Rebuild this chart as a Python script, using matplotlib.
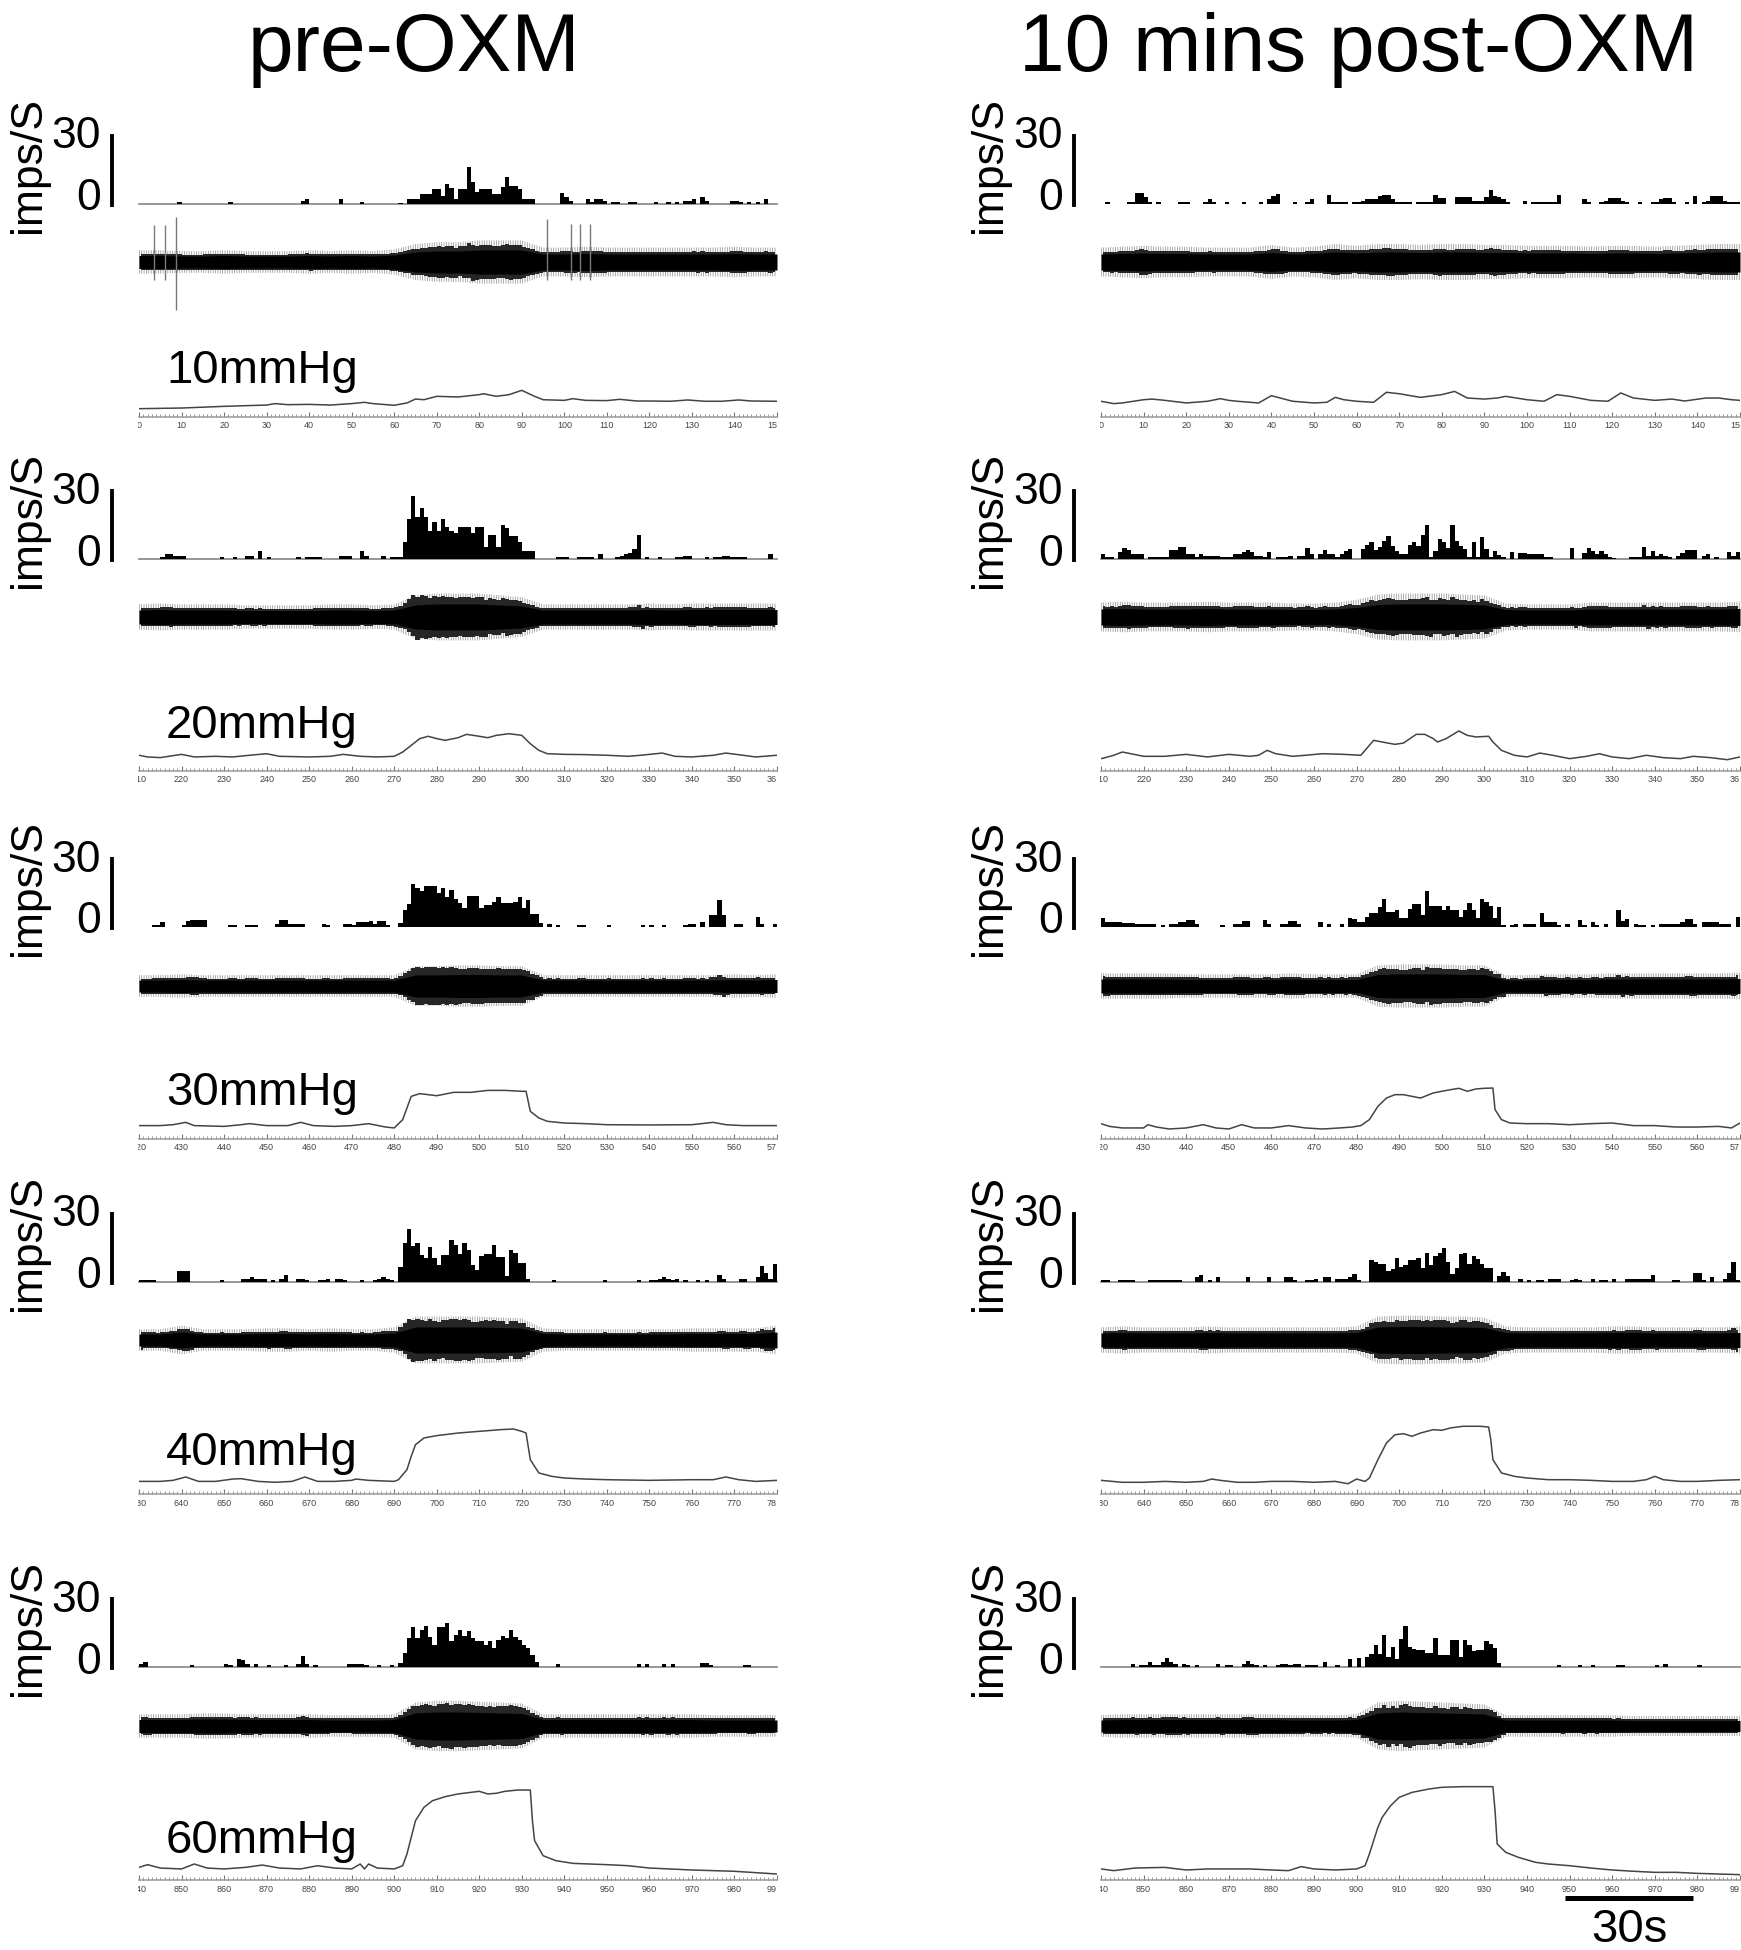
import numpy as np
import matplotlib
matplotlib.use("Agg")
import matplotlib.pyplot as plt
from matplotlib import transforms
from matplotlib.lines import Line2D

plt.rcParams['font.family'] = ['Liberation Sans', 'DejaVu Sans']
plt.rcParams['hatch.linewidth'] = 0.5

W, H = 1741, 1950

# ---- data: start time (s) of each 150 s sweep, and distension pressure
starts = [0, 210, 420, 630, 840]
pressure_labels = ['10mmHg', '20mmHg', '30mmHg', '40mmHg', '60mmHg']

# firing rate histograms, 1 s bins (imps/S), pre-OXM (pre_*) and 10 min post-OXM (post_*)
pre_10 = [0, 0, 0, 0, 0, 0, 0, 0, 0, 1,  0, 0, 0, 0, 0, 0, 0, 0, 0, 0,
          0, 1, 0, 0, 0, 0, 0, 0, 0, 0,  0, 0, 0, 0, 0, 0, 0, 0, 1.5, 2,
          0, 0, 0, 0, 0, 0, 0, 2, 0, 0,  0, 0, 1, 0, 0, 0, 0, 0, 0, 0,
          0, 0.5, 0, 2, 2, 2, 4.5, 4.5, 4.5, 6.5,  6.5, 3.5, 9, 7, 2, 6.5, 6.5, 16.5, 9.5, 5.5,
          6.5, 6.5, 6.5, 4.5, 4.5, 7.5, 12, 8, 8, 6.5,  2, 2, 2, 0, 0, 0, 0, 0, 0, 4.7,
          3.2, 1.3, 0, 0, 0, 2, 1, 2, 2, 1.5,  0, 1, 1, 0, 0, 1, 1, 0, 0, 0,
          0, 1, 0, 0, 1, 0, 1, 0, 1.5, 1.5,  2, 0, 3, 1.5, 0, 0, 0, 0, 0, 1.5,
          1.5, 1, 0, 1, 0, 1, 0, 2, 0, 0]
post_10 = [0, 1, 0, 0, 0, 0, 1, 1, 5, 5,  3, 1, 0, 1, 0, 0, 0, 0, 1, 1,
           1, 0, 0, 0, 1, 2, 1, 0, 0, 1,  0, 0, 0, 1, 0, 0, 0, 1, 0, 2,
           3.5, 4.5, 0, 0, 0, 1, 0, 0, 1, 2,  0, 0, 0, 4, 1, 1, 1, 1, 0, 1,
           1, 1.5, 2, 2, 2, 3.5, 4, 4, 2, 1,  1, 1, 1, 0, 1, 1, 1, 1, 4, 2.5,
           2.5, 0, 0, 3, 3, 3, 3, 1.5, 1.5, 1.5,  3, 6, 3.5, 3, 2, 1, 0, 0, 0, 1.5,
           0, 1, 1, 1, 1, 1, 1, 4, 0, 0,  0, 0, 0, 2, 1, 0, 0, 1, 1.5, 2.5,
           2.5, 2.5, 1.5, 1, 0, 0, 1, 0, 0, 1,  1, 2, 2.5, 2.5, 1, 0, 0, 1, 0, 3.5,
           0, 1, 1.5, 3.5, 3.5, 3.5, 1.5, 1, 1, 1]
pre_20 = [0, 0, 0, 0, 0, 1, 2, 2, 1.5, 1.5,  1.5, 0, 0, 0, 0, 0, 0, 0, 0, 1,
          0, 0, 1, 0, 0, 1.5, 1.5, 0, 3.5, 0,  1, 0, 0, 0, 0, 0, 0, 1, 0, 1,
          1, 1, 1, 0, 0, 0, 0, 1.5, 1.5, 1.5,  0, 0, 3.5, 1.5, 0, 0, 0, 1.5, 0, 1,
          1, 1, 7.6, 17.5, 28, 18.4, 22.6, 18.4, 12.5, 16.5,
          12.5, 17.5, 14, 12.5, 11.6, 14, 14.3, 14.3, 11.6, 14.3,
          14.3, 5.4, 10.6, 10.6, 5.4, 15, 13.5, 10, 10, 7.6,
          3.7, 3.7, 3.7, 0, 0, 0, 0, 0, 1, 1,  1, 0, 0, 1, 1, 1, 1, 0, 2, 0,
          0, 0, 1, 1.5, 2, 2.5, 4.5, 10.5, 0, 1,  0, 0, 1, 0, 0, 0, 1, 1, 1.5, 1.5,
          0, 0, 0, 1, 0, 1, 1, 1.5, 1.5, 1,  1, 1, 1, 0, 0, 0, 0, 0, 2, 0]
post_20 = [2, 1, 1, 0, 3, 5, 4, 2, 2, 2,  0, 1, 1, 1, 1, 1, 4, 4, 5.3, 5.3,
           2.2, 2.2, 1, 2, 1.5, 1.5, 1.5, 1.5, 1, 1,  1, 2, 2, 3, 4, 3, 1.5, 1.5, 1, 3,
           0, 1, 1, 1, 1.5, 0, 1.5, 1.5, 5, 2,  0, 2, 4, 2, 2, 1, 2, 3.5, 4.5, 0,
           0, 4.4, 6.2, 7.4, 4, 5.4, 8, 10.3, 5.9, 3.7,
           2.2, 2.2, 6.3, 7.6, 5.9, 10.7, 15, 1, 3.4, 8.8,
           7.4, 4.9, 15, 7.8, 5.9, 4.4, 1, 7.4, 1, 9.6,
           4.4, 1, 3.4, 1.9, 1, 0, 3, 0, 2.5, 2.5,  2, 2, 2, 2, 1, 1, 0, 0, 0, 0,
           5, 0, 0, 2.5, 5, 3.5, 2, 3.5, 2, 1,  0.5, 0, 0, 0, 1, 1, 1, 5.5, 1.5, 3.5,
           1.5, 2, 1.5, 1, 0, 1.5, 2.5, 4, 4, 4,  0, 1.5, 2, 0, 1, 0, 0, 3, 1.5, 3]
pre_30 = [0, 0, 0, 1, 1, 2, 0, 0, 0, 0,  1, 2.6, 3, 3, 3, 3, 0, 0, 0, 0,
          0, 1, 1, 0, 0, 1, 1, 1, 0, 0,  0, 0, 1.5, 3, 3, 1.5, 1.5, 1.5, 1.5, 0,
          0, 0, 0, 1.5, 1, 0, 0, 0, 1.5, 1.5,  1, 2, 2, 2, 2.5, 1.5, 2.5, 2.5, 1, 0,
          0, 1.8, 7.4, 10.3, 19, 17.4, 16, 18, 18, 18,
          15, 17, 13.2, 16.5, 12.5, 10.6, 8.5, 13.7, 13.7, 13.7,
          8.5, 9.5, 9.5, 11, 13.2, 10.6, 10.6, 10.6, 11, 13.2,
          8.5, 12, 5.9, 5.9, 1.8, 0, 1.5, 0, 1, 0,  0, 0, 0, 1, 1, 0, 0, 0, 0, 0,
          1, 0, 0, 0, 0, 0, 0, 0, 1, 0,  1, 0, 0, 1, 0, 0, 0, 0, 1, 1.5,
          1.5, 0, 2.2, 0, 5.1, 5.1, 11.8, 5.1, 0, 0,  1.5, 1.5, 0, 0, 0, 4.5, 1.5, 0, 0, 1.5]
post_30 = [4, 2.2, 2.2, 2.2, 2.2, 1.8, 1.8, 1.8, 1.2, 1.2,  1.2, 1.2, 1.2, 0, 0.7, 0, 1.2, 1.2, 2.2, 2.2,
           3, 3, 1.5, 0, 0, 0, 0, 0, 1, 0,  0, 1.5, 1.5, 2.5, 2.5, 0, 0, 0, 3, 1.5,
           0, 0, 1.5, 1.5, 2.5, 2.5, 1.5, 0, 0, 0,  0, 2, 0, 1.5, 0, 0, 1.5, 0, 4, 3.5,
           2, 2, 4.4, 6.2, 6.2, 8.8, 12.5, 6.6, 6.6, 7.4,
           4.1, 4.1, 8, 10.3, 10.3, 5.1, 15.9, 9.1, 9.1, 9.1,
           7.4, 9.1, 7.4, 7.4, 4.4, 7.4, 10.6, 7.6, 4.1, 12.5,
           11, 9.1, 4.1, 8.8, 0.7, 0, 1, 1.5, 0, 1.5,  1.5, 1.5, 0, 6, 2, 2, 2, 1, 0, 1.5,
           0, 0, 3, 1, 0, 2, 1, 0, 1.5, 0,  0, 7.4, 2.5, 3.5, 0, 1.5, 1, 1, 0, 1,
           0, 1.5, 1.5, 1.5, 1.5, 1.5, 2, 3.7, 3.7, 1.5,  0, 2, 2, 2, 2, 1.5, 1.5, 1.5, 0, 4.5]
pre_40 = [1, 1, 1, 1, 0, 0, 0, 0, 0, 5,  5, 5, 0, 0, 0, 0, 0, 0, 0, 1,
          0, 0, 0, 0, 1.5, 1.5, 2, 1.5, 1.5, 1.5,  0, 1, 0, 1.5, 3, 0, 0, 1.5, 1.5, 1,
          0, 0, 1, 1, 1.5, 0, 1.5, 1.5, 1, 0,  0, 0, 1, 0, 0, 1, 1.5, 2, 1.5, 1,
          0, 6.6, 17, 23.5, 15.8, 17.2, 11.8, 10.7, 15.3, 10.7,
          7.4, 11.8, 11.8, 18.4, 16.2, 12.5, 17.2, 14, 7.4, 5.1,
          11.3, 12.5, 12.5, 16.2, 11, 11, 2.5, 14, 12.8, 8.4,
          8.4, 1.5, 0, 0, 0, 0, 0, 1, 0, 0,  0, 0, 0, 0, 0, 0, 0, 0, 0, 1,
          0, 0, 0, 0, 0, 0, 0, 1, 0, 0,  1, 1, 1.5, 2, 1.5, 1, 1.5, 0, 1, 0,
          0, 1, 0, 1, 0, 0, 3, 1.5, 0, 0,  0, 1.5, 1.5, 0, 0, 2, 7, 4, 1.5, 8]
post_40 = [1, 1, 0, 0, 1, 1, 1, 1, 0, 0,  0, 1, 1, 1, 1, 1, 1, 1, 1, 0,
           0, 0, 2.2, 3, 0, 1, 0, 2, 0, 0,  0, 0, 0, 0, 2, 0, 0, 0, 0, 2,
           0, 0, 0, 2, 2, 1, 0, 0, 1, 1,  1.5, 0, 2, 2, 0, 1.5, 1.5, 1.5, 2, 3.4,
           1, 0, 0, 9.7, 9, 7.8, 7.8, 4.9, 5.6, 10.4,
           6.6, 7.5, 9.6, 9.6, 10.7, 6.3, 12.9, 7.5, 11.5, 12.9,
           14.9, 9, 3.4, 6, 12.2, 12.9, 7.8, 11.5, 10, 8.1,
           6, 6, 0, 2.5, 4.5, 2.5, 0, 0, 1.5, 0,  1, 0, 1, 1, 0, 1.5, 1.5, 1.5, 0, 0,
           1, 1.5, 1, 0, 0, 1.5, 0, 1, 1, 0,  1.5, 0, 0, 1.5, 1.5, 1.5, 1.5, 1.5, 1.5, 3,
           0, 0, 0, 0, 1, 1, 0, 0, 0, 4,  4, 1, 0, 2, 0, 0, 1.5, 4, 9, 1]
pre_60 = [1.5, 2, 0, 0, 0, 0, 0, 0, 0, 0,  0, 0, 1, 0, 0, 0, 0, 0, 0, 0,
          1.5, 1, 0, 3.5, 3, 1.5, 0, 1.5, 0, 0,  1, 0, 0, 0, 1, 0, 0, 1.5, 5, 1.5,
          0, 1, 0, 0, 0, 0, 0, 0, 0, 1.5,  1.5, 1.5, 1.5, 1, 0, 0, 1, 0, 0, 1,
          0, 1.8, 6.2, 12.8, 17.6, 12.8, 16.5, 18.2, 13.2, 9.8,
          17.6, 17.6, 19.4, 11.3, 14.3, 16.5, 13.5, 15.7, 12.8, 11.3,
          11.3, 9.8, 11.3, 8.4, 12, 13.5, 12.8, 16.5, 13.2, 11.8,
          9.8, 8.4, 5.4, 2, 0, 0, 0, 0, 1.5, 0,  0, 0, 0, 0, 0, 0, 0, 0, 0, 0,
          0, 0, 0, 0, 0, 0, 0, 1.5, 0, 1.5,  0, 0, 0, 1.5, 0, 1.5, 0, 0, 0, 0,
          0, 0, 1.8, 1.8, 1, 0, 0, 0, 0, 0,  0, 0, 1, 1, 0, 0, 0, 0, 0, 0]
post_60 = [0, 0, 0, 0, 0, 0, 0, 1.5, 0, 1,  1, 2, 1, 1, 2, 4, 2, 1.5, 0, 1.5,
           1, 0, 1, 0, 0, 0, 0, 1.5, 0, 1,  1, 0, 0, 1.5, 2.5, 1.5, 1, 0, 1, 0,
           0, 1, 1.5, 1.5, 1, 1.5, 1.5, 0, 1, 1,  1, 0, 2, 0, 0, 1, 0, 0, 3.5, 0,
           4, 0, 4.4, 5.9, 9.6, 5.9, 14, 4.4, 8.8, 3.7,
           12.5, 17.9, 8.8, 8.1, 7.4, 7.4, 6.2, 6.2, 12.9, 5.1,
           5.1, 5.1, 11.8, 11.8, 4.4, 11.8, 9.6, 7, 7.4, 7.4,
           11.5, 10, 8.5, 1.8, 0, 0, 0, 0, 0, 0,  0, 0, 0, 0, 0, 0, 0, 1, 0, 0,
           0, 0, 1, 0, 0, 1, 0, 0, 0, 0,  0, 1, 1, 0, 0, 0, 0, 0, 0, 0,
           1, 0, 1.5, 0, 0, 0, 0, 0, 0, 0,  1, 0, 0, 0, 0, 0, 0, 0, 0, 0]

# raw nerve recording: band half-amplitude (px) every 5 s
raw_pre = [
    [6.5, 6.5, 6, 6, 6.5, 6, 6, 6, 6.5, 6, 6.5, 6, 7, 10, 11, 11, 12, 12, 12, 8, 8, 8.5, 8, 8, 8, 8, 8, 8, 8.5, 8, 8],
    [7, 7.5, 7, 7, 7, 6.5, 6.5, 6.5, 6.5, 7, 7, 6.5, 7, 12, 13, 13, 13, 12, 11, 7, 7, 7, 7, 7, 7.5, 7, 7.5, 7.5, 7.5, 7.5, 7.5],
    [6, 6, 6.5, 6, 6, 6, 6, 6, 6, 6, 6, 6, 6, 11, 11, 11.5, 11.5, 11, 11, 6, 6, 6, 6, 6, 6, 6, 6, 6, 6.5, 6, 6.5],
    [6, 6, 8, 6, 6, 6, 6.5, 6.5, 6, 6.5, 6, 6, 7, 13, 13, 13, 13, 12.5, 12, 6.5, 6, 6, 6, 6, 6, 6, 6.5, 6.5, 6.5, 6.5, 8],
    [6.5, 6.5, 6.5, 7, 7, 6.5, 6.5, 6.5, 6.5, 6, 6, 6, 6.5, 13, 14, 14, 13.5, 13, 12.5, 6.5, 6.5, 6.5, 6.5, 6.5, 6.5, 6.5, 6.5, 6, 6, 6, 6],
]
raw_post = [
    [8, 8.5, 9, 8.5, 8.5, 8, 8, 8, 9.5, 8, 8.5, 10, 9, 10, 10, 9.5, 10, 10, 9.5, 9.5, 9, 9, 9, 8.5, 9, 9, 8.5, 9, 9.5, 10, 10],
    [8, 8.5, 8, 8, 8, 8.5, 8, 8, 8, 7.5, 7.5, 8, 9.5, 12.5, 13, 13, 13, 12.5, 12, 7.5, 7, 7, 7, 8, 8, 8, 8, 8, 8, 8, 8.5],
    [7, 7, 7, 7, 6.5, 6.5, 6.5, 6.5, 6.5, 7, 6.5, 6.5, 6.5, 11.5, 12, 12, 12, 11.5, 11.5, 6, 6, 6.5, 6.5, 6.5, 7, 7, 7, 7, 7, 7, 7.5],
    [7, 7.5, 7, 7, 7, 7.5, 7, 7, 7, 7, 7, 7, 7.5, 13, 13.5, 13.5, 13, 13, 12.5, 7.5, 7, 7, 7, 7, 7.5, 7.5, 7, 7, 7, 7, 7.5],
    [6, 6.5, 6.5, 6.5, 6.5, 6.5, 6.5, 6.5, 6.5, 6, 6, 6, 6.5, 13, 14, 13.5, 13, 12.5, 12, 6, 6, 6, 6, 6, 6, 5.5, 5.5, 5.5, 5.5, 5.5, 5.5],
]
# large single units in the first pre-OXM sweep: time (s), up and down extent (px)
spike_t = [3.6, 6.0, 8.8, 95.9, 101.6, 103.7, 106.0]
spike_up = [37, 37, 45, 43, 38, 38, 38]
spike_dn = [18, 18, 48, 18, 18, 18, 18]

# balloon pressure traces (time s, mmHg)
pre_p_t = [
    [0, 10, 20, 30, 32, 35, 40, 45, 50, 53, 55, 60, 63, 65, 67, 70, 75, 80, 81, 84, 87, 90, 93, 95, 100, 102, 105, 110, 113, 117, 120, 125, 129, 133, 137, 141, 144, 150],
    [210, 212, 215, 220, 223, 228, 232, 236, 240, 243, 250, 255, 258, 262, 266, 270, 272, 274, 276, 278, 280, 282, 285, 287, 290, 292, 294, 297, 300, 302, 304, 306, 310, 315, 320, 325, 328, 333, 336, 340, 345, 348, 352, 355, 360],
    [420, 425, 428, 431, 433, 440, 444, 446, 450, 455, 458, 461, 466, 470, 474, 478, 480, 482, 484, 486, 490, 494, 498, 502, 506, 510, 511, 512, 514, 516, 520, 525, 530, 540, 550, 555, 558, 562, 570],
    [630, 635, 638, 641, 644, 648, 652, 654, 658, 662, 666, 669, 672, 676, 680, 681, 684, 690, 691, 693, 694, 695, 697, 700, 705, 710, 715, 718, 720, 721, 722, 724, 727, 730, 735, 740, 750, 760, 765, 768, 771, 775, 780],
    [840, 842, 845, 850, 853, 856, 860, 865, 869, 873, 878, 882, 886, 890, 892, 893, 894, 896, 900, 902, 903, 904, 905, 907, 909, 912, 915, 918, 920, 922, 924, 926, 929, 932, 932.5, 933, 935, 938, 942, 950, 955, 960, 970, 980, 990],
]
pre_p = [
    [6.4, 6.9, 8.2, 9.2, 10.3, 9.5, 9.7, 9.2, 10.3, 11.3, 10.3, 9.0, 10.8, 13.8, 13.3, 15.9, 15.4, 17.2, 17.9, 15.9, 17.2, 20.5, 15.9, 13.3, 12.8, 14.1, 12.8, 12.6, 13.6, 12.3, 12.3, 12.1, 13.1, 12.1, 12.1, 13.1, 12.3, 12.1],
    [12.1, 10.8, 10.3, 12.8, 10.8, 11.3, 10.8, 12.1, 13.3, 11.3, 10.8, 11.3, 12.8, 11.3, 10.8, 11.3, 14.6, 19.7, 24.9, 26.7, 24.9, 23.6, 25.6, 28.2, 26.7, 25.6, 27.4, 28.7, 27.4, 21.0, 15.9, 13.3, 12.8, 12.6, 12.1, 11.3, 12.1, 13.8, 11.3, 10.8, 12.1, 13.8, 12.1, 10.8, 12.1],
    [10.3, 10.3, 11.0, 12.8, 10.3, 9.7, 11.0, 11.8, 10.3, 10.3, 12.8, 10.3, 9.7, 10.3, 11.8, 9.2, 8.5, 14.9, 32.8, 34.9, 33.3, 35.9, 35.9, 37.4, 37.4, 36.7, 36.7, 21.3, 16.2, 13.6, 12.3, 11.8, 11.0, 10.8, 11.0, 12.8, 11.0, 10.3, 10.3],
    [9.7, 9.7, 10.5, 13.1, 9.7, 9.7, 11.5, 11.8, 9.7, 9.0, 9.7, 13.1, 9.7, 9.7, 10.5, 11.5, 10.5, 9.7, 11.0, 18.7, 29.0, 37.9, 43.1, 44.9, 46.9, 48.2, 49.5, 50.0, 48.2, 46.9, 26.4, 16.2, 13.6, 12.3, 11.5, 11.0, 10.5, 11.0, 11.0, 13.1, 11.0, 9.7, 10.5],
    [9.7, 11.8, 9.2, 8.5, 12.3, 9.2, 8.5, 9.7, 11.5, 9.2, 8.5, 11.0, 9.2, 8.5, 12.3, 8.5, 12.3, 9.2, 8.5, 11.0, 20.0, 32.8, 45.6, 55.9, 61.0, 64.1, 66.2, 67.4, 68.2, 66.2, 66.7, 68.2, 69.2, 69.2, 45.6, 30.3, 18.7, 14.9, 12.8, 11.8, 11.0, 9.2, 7.7, 6.7, 4.6],
]
post_p_t = [
    [0, 3, 5, 10, 12, 15, 20, 25, 28, 30, 32, 37, 40, 43, 45, 50, 53, 55, 57, 60, 64, 67, 70, 75, 80, 83, 86, 90, 93, 95, 100, 104, 107, 110, 115, 119, 122, 125, 130, 134, 137, 142, 145, 148, 150],
    [210, 211, 213, 215, 217, 220, 225, 230, 235, 240, 245, 247, 249, 251, 255, 258, 262, 267, 271, 274, 276, 279, 281, 284, 286, 288, 289, 291, 294, 296, 298, 301, 302, 304, 307, 310, 313, 316, 320, 324, 327, 330, 334, 338, 342, 346, 349, 353, 357, 360],
    [420, 422, 425, 430, 431, 433, 436, 440, 444, 447, 450, 453, 456, 460, 464, 468, 472, 476, 479, 481, 483, 485, 487, 489, 491, 493, 495, 498, 500, 502, 504, 506, 508, 510, 512, 512.5, 514, 516, 520, 525, 530, 535, 540, 545, 550, 555, 560, 565, 568, 570],
    [630, 635, 640, 645, 650, 654, 656, 658, 662, 666, 670, 675, 680, 685, 688, 690, 692, 693, 695, 697, 699, 701, 703, 705, 708, 710, 712, 715, 719, 721, 721.5, 722, 724, 727, 730, 735, 740, 745, 750, 755, 758, 760, 762, 766, 770, 775, 780],
    [840, 843, 848, 855, 860, 865, 870, 875, 880, 884, 887, 890, 895, 900, 902, 903, 904, 905, 906, 908, 910, 913, 917, 920, 925, 930, 932, 932.5, 933, 935, 938, 942, 945, 950, 955, 960, 965, 970, 975, 980, 990],
]
post_p = [
    [12.1, 10.3, 10.8, 13.3, 13.8, 12.8, 10.8, 12.1, 14.1, 12.8, 12.1, 10.8, 16.4, 13.8, 12.1, 10.8, 11.3, 15.1, 13.3, 12.1, 11.3, 19.0, 17.9, 15.1, 17.2, 19.7, 14.6, 13.8, 14.6, 15.9, 13.3, 12.1, 17.2, 15.9, 12.8, 12.1, 18.5, 14.6, 12.8, 13.8, 12.3, 14.6, 14.6, 13.3, 12.8],
    [9.5, 10.3, 12.1, 14.6, 13.3, 11.3, 11.3, 12.8, 10.8, 12.8, 11.3, 12.1, 15.9, 13.3, 11.3, 12.1, 13.3, 12.8, 12.1, 23.6, 22.3, 20.5, 21.5, 28.2, 28.2, 24.9, 22.3, 24.9, 30.8, 27.4, 26.2, 26.7, 22.3, 15.9, 12.1, 10.8, 13.8, 12.1, 9.5, 11.3, 13.3, 10.8, 9.5, 12.1, 10.3, 9.5, 11.3, 10.3, 8.7, 10.8],
    [11.8, 9.7, 8.5, 8.5, 11.0, 9.2, 7.7, 8.5, 11.0, 8.5, 7.7, 11.0, 8.5, 8.5, 10.3, 8.5, 7.7, 8.5, 9.2, 10.3, 14.9, 25.1, 31.5, 34.1, 34.1, 32.8, 31.5, 35.4, 36.7, 37.9, 39.0, 36.7, 38.5, 39.0, 39.2, 22.6, 14.9, 12.3, 11.8, 11.8, 11.0, 11.8, 12.3, 10.3, 10.3, 9.2, 9.2, 9.7, 8.5, 12.3],
    [10.5, 9.0, 9.0, 9.7, 9.0, 9.7, 11.5, 10.5, 9.0, 9.0, 9.7, 9.7, 9.0, 9.7, 7.9, 11.5, 9.7, 12.3, 26.4, 39.2, 45.6, 46.4, 44.4, 46.9, 49.5, 49.0, 50.8, 52.1, 52.1, 51.5, 41.8, 26.4, 16.2, 13.6, 12.3, 11.0, 11.0, 10.5, 9.7, 9.7, 11.0, 13.6, 11.0, 9.7, 9.7, 10.5, 11.0],
    [8.5, 7.2, 9.2, 9.7, 7.7, 8.5, 8.5, 8.5, 7.7, 7.2, 10.3, 8.5, 7.7, 8.5, 11.0, 20.0, 30.3, 40.5, 48.2, 57.2, 63.6, 67.4, 70.0, 71.3, 71.8, 71.8, 71.8, 53.3, 27.7, 21.3, 17.4, 13.6, 12.3, 11.0, 9.2, 7.7, 6.7, 5.9, 5.9, 5.1, 4.1],
]

hist = [[pre_10, pre_20, pre_30, pre_40, pre_60],
        [post_10, post_20, post_30, post_40, post_60]]
raw = [raw_pre, raw_post]
p_t = [pre_p_t, post_p_t]
p_v = [pre_p, post_p]
show_base = [[True, True, False, True, True], [False, True, False, True, True]]

# ---- layout (pixels from top-left)
col_x = [(139, 777), (1101, 1740)]
hist_base = [204, 559, 927, 1282, 1667]
raw_mid = [262, 617, 986, 1340, 1726]
axis_y = [417, 771, 1139, 1494, 1880]
mmhg_base = [383, 738, 1105, 1465, 1853]
HIST_H = 68
PX_PER_MMHG = 1.3

fig = plt.figure(figsize=(W / 100, H / 100), dpi=100)


def add_ax(x0, x1, ytop, ybot):
    return fig.add_axes([x0 / W, 1 - ybot / H, (x1 - x0) / W, (ybot - ytop) / H])


def fx(x):
    return x / W


def fy(y):
    return 1 - y / H


fig.text(fx(414), fy(71), 'pre-OXM', fontsize=59, ha='center', va='baseline')
fig.text(fx(1359), fy(71), '10 mins post-OXM', fontsize=59, ha='center', va='baseline')

for c in range(2):
    x0, x1 = col_x[c]
    for r in range(5):
        t0 = starts[r]
        vals = np.array(hist[c][r], dtype=float)
        # histogram
        hb = hist_base[r]
        ax = add_ax(x0, x1, hb - HIST_H, hb)
        ax.bar(np.arange(len(vals)) + t0, vals, width=1.0, align='edge',
               color='black', linewidth=0, clip_on=False)
        if show_base[c][r]:
            ax.axhline(0, color='#8f8f8f', lw=1.3, clip_on=False, zorder=0)
        ax.set_xlim(t0, t0 + 150)
        ax.set_ylim(0, 30)
        ax.axis('off')

        # rate scale bar
        xb = x0 - 27
        fig.add_artist(Line2D([fx(xb), fx(xb)], [fy(hb + 1), fy(hb - HIST_H)],
                              color='black', lw=2.8))
        fig.text(fx(x0 - 38), fy(hb - HIST_H + 1), '30', fontsize=32, ha='right', va='center')
        fig.text(fx(x0 - 38), fy(hb - 5), '0', fontsize=32, ha='right', va='center')
        fig.text(fx(x0 - 111), fy(hb - 39), 'imps/S', fontsize=32, rotation=90,
                 ha='center', va='center')

        # raw nerve trace: envelope band, roughened by the unit counts of each bin
        rm = raw_mid[r]
        axr = add_ax(x0, x1, rm - 60, rm + 60)
        tt = np.arange(len(raw[c][r])) * 5 + t0
        amp = np.array(raw[c][r])
        tb = np.arange(len(vals)) + t0 + 0.5
        ab = np.interp(tb, tt, amp)
        up = ab * 1.25 + 0.28 * vals
        dn = ab * 1.25 + 0.28 * np.roll(vals, 1)
        axr.fill_between(tt, -amp * 1.8, amp * 1.8, facecolor='none', edgecolor='#8a8a8a',
                         hatch='|||||||', linewidth=0)
        axr.fill_between(tb, -dn, up, step='mid', color='#262626', linewidth=0)
        axr.fill_between(tt, -amp, amp, color='black', linewidth=0)
        if c == 0 and r == 0:
            axr.vlines(spike_t, -np.array(spike_dn), spike_up, color='#7a7a7a', lw=1.0)
        axr.set_xlim(t0, t0 + 150)
        axr.set_ylim(-60, 60)
        axr.axis('off')

        # pressure trace + time ruler
        ay = axis_y[r]
        axp = add_ax(x0, x1, ay - 110, ay)
        axp.plot(p_t[c][r], p_v[c][r], color='#444444', lw=1.1)
        axp.set_xlim(t0, t0 + 150)
        axp.set_ylim(0, 110 / PX_PER_MMHG)
        for s in ['top', 'left', 'right']:
            axp.spines[s].set_visible(False)
        axp.spines['bottom'].set_color('#9a9a9a')
        axp.spines['bottom'].set_linewidth(1.1)
        axp.set_yticks([])
        axp.set_xticks(np.arange(t0, t0 + 151, 10))
        axp.set_xticks(np.arange(t0, t0 + 151, 1), minor=True)
        axp.tick_params(axis='x', which='major', direction='in', length=3.5, width=0.8,
                        color='#777777', labelbottom=False)
        axp.tick_params(axis='x', which='minor', direction='in', length=2.0, width=0.6,
                        color='#888888')
        axp.patch.set_alpha(0)

        axl = add_ax(x0 - 1, x1, ay + 2, ay + 16)
        axl.set_xlim(t0 - 150 / (x1 - x0), t0 + 150)
        axl.set_ylim(0, 1)
        axl.axis('off')
        for v in range(t0, t0 + 151, 10):
            if v == t0 + 150:
                # last label is cut by the panel edge, as in the recording printout
                axl.text(v, 0.5, str(v)[:2], fontsize=6.5, color='#444444', ha='right',
                         va='center', clip_on=True)
            else:
                axl.text(v, 0.5, str(v), fontsize=6.5, color='#444444', ha='center',
                         va='center', clip_on=True)

        if c == 0:
            fig.text(fx(166), fy(mmhg_base[r]), pressure_labels[r], fontsize=34,
                     ha='left', va='baseline')

        if c == 1 and r == 4:
            blend = transforms.blended_transform_factory(axp.transData, fig.transFigure)
            axp.plot([949, 979], [fy(1898), fy(1898)], transform=blend, color='black',
                     lw=3.6, clip_on=False, solid_capstyle='butt')
            axp.text(964, fy(1942), '30s', transform=blend, fontsize=34, ha='center',
                     va='baseline')

fig.savefig('out.png', dpi=100)
